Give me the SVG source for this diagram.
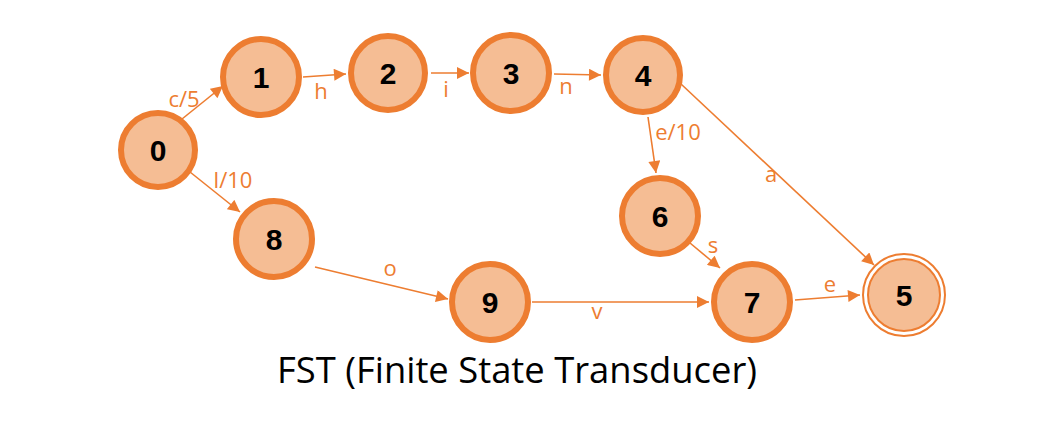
<svg xmlns="http://www.w3.org/2000/svg" width="1064" height="424" viewBox="0 0 1064 424">
<style>
.n circle{fill:#F5BD94;stroke:#ED7D31;stroke-width:6}
.n text{font-family:"Liberation Sans",Arial,sans-serif;font-weight:bold;font-size:30px;fill:#000;text-anchor:middle}
.e line{stroke:#ED7D31;stroke-width:1.6;marker-end:url(#ah)}
.l{font-family:"Open Sans","Liberation Sans",sans-serif;font-size:22px;fill:#ED7D31;text-anchor:middle}
</style>
<defs>
<marker id="ah" viewBox="0 0 10 10" refX="10" refY="5" markerWidth="13" markerHeight="12" markerUnits="userSpaceOnUse" orient="auto">
<path d="M0,0 L10,5 L0,10 z" fill="#ED7D31"/>
</marker>
</defs>
<rect width="1064" height="424" fill="#fff"/>
<g id="connectors" class="e">
<line x1="182" y1="119" x2="223" y2="86"/>
<line x1="303" y1="77" x2="346" y2="74"/>
<line x1="431" y1="73" x2="469" y2="73"/>
<line x1="554" y1="74" x2="601" y2="75"/>
<line x1="648" y1="117" x2="656" y2="173"/>
<line x1="681" y1="84" x2="874" y2="265"/>
<line x1="690" y1="243" x2="720" y2="268"/>
<line x1="795" y1="300" x2="860" y2="295"/>
<line x1="190" y1="172" x2="240" y2="212"/>
<line x1="315" y1="267" x2="448" y2="299"/>
<line x1="532" y1="302" x2="709" y2="302"/>
</g>
<g id="labels">
<text class="l" x="184" y="107">c/5</text>
<text class="l" x="321" y="99">h</text>
<text class="l" x="446" y="97">i</text>
<text class="l" x="566" y="94">n</text>
<text class="l" x="678" y="140">e/10</text>
<text class="l" x="771" y="182">a</text>
<text class="l" x="713" y="253">s</text>
<text class="l" x="830" y="292">e</text>
<text class="l" x="233" y="188">l/10</text>
<text class="l" x="390" y="276">o</text>
<text class="l" x="597" y="319">v</text>
</g>
<g id="node0" class="n"><circle cx="158" cy="150" r="37"/><text x="158" y="161">0</text></g>
<g id="node1" class="n"><circle cx="261" cy="77" r="38"/><text x="261" y="88">1</text></g>
<g id="node2" class="n"><circle cx="388" cy="73" r="37"/><text x="388" y="84">2</text></g>
<g id="node3" class="n"><circle cx="511" cy="73" r="38"/><text x="511" y="84">3</text></g>
<g id="node4" class="n"><circle cx="643" cy="75" r="37"/><text x="643" y="86">4</text></g>
<g id="node6" class="n"><circle cx="660" cy="216" r="38"/><text x="660" y="227">6</text></g>
<g id="node7" class="n"><circle cx="752" cy="302" r="38"/><text x="752" y="313">7</text></g>
<g id="node8" class="n"><circle cx="274" cy="239" r="38"/><text x="274" y="250">8</text></g>
<g id="node9" class="n"><circle cx="490" cy="302" r="38"/><text x="490" y="313">9</text></g>
<g id="node5" class="n">
<circle cx="904" cy="295" r="41" style="fill:#fff;stroke-width:2"/>
<circle cx="904" cy="295" r="36" style="stroke-width:2"/>
<text x="904" y="306">5</text>
</g>
<text x="517" y="383" textLength="480" lengthAdjust="spacingAndGlyphs" style="font-family:'Open Sans','Liberation Sans',sans-serif;font-size:37px;fill:#000;text-anchor:middle">FST (Finite State Transducer)</text>
</svg>
